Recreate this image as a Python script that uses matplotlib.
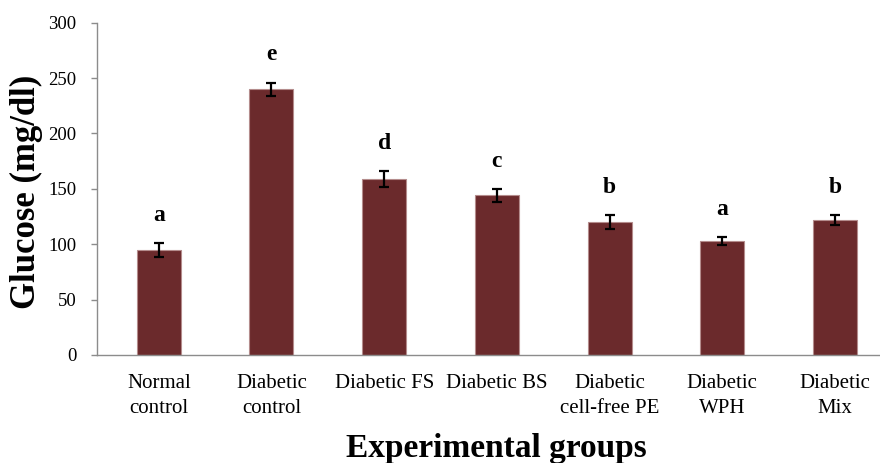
import matplotlib
matplotlib.use("Agg")
import matplotlib.pyplot as plt
import numpy as np

# Blood glucose per experimental group (mean ± SE) with significance letters
groups = ["Normal\ncontrol", "Diabetic\ncontrol", "Diabetic FS", "Diabetic BS",
          "Diabetic\ncell-free PE", "Diabetic\nWPH", "Diabetic\nMix"]
glucose = [95, 240, 159, 144, 120, 103, 122]
errors = [6.3, 6.0, 7.0, 5.5, 6.0, 3.3, 4.5]
letters = ["a", "e", "d", "c", "b", "a", "b"]
y_ticks = [0, 50, 100, 150, 200, 250, 300]

plt.rcParams["font.family"] = ["Liberation Serif", "DejaVu Serif"]

fig = plt.figure(figsize=(8.8, 4.63), dpi=100)
ax = fig.add_axes([0.110, 0.2333, 0.89, 0.7177])

x = np.arange(len(groups))
ax.bar(x, glucose, width=0.39, color="#6b2a2c", edgecolor="#b48c8c",
       linewidth=0.8, zorder=2)
ax.errorbar(x, glucose, yerr=errors, fmt="none", ecolor="black",
            elinewidth=1.6, capsize=3.6, capthick=1.6, zorder=3)

for xi, v, e, lab in zip(x, glucose, errors, letters):
    ax.annotate(lab, xy=(xi, v + e), xytext=(0, 16), textcoords="offset points",
                ha="center", va="baseline", fontsize=17, fontweight="bold")

ax.set_xlim(-0.55, 6.4)
ax.set_ylim(0, 300)
ax.set_yticks(y_ticks)
ax.set_xticks(x)
ax.set_xticklabels(groups, fontsize=15, linespacing=1.4)
ax.tick_params(axis="x", length=0, pad=14)
ax.tick_params(axis="y", labelsize=13.5, length=4.5, width=1, color="#8c8c8c",
               direction="out", pad=10)

for side in ("top", "right"):
    ax.spines[side].set_visible(False)
for side in ("left", "bottom"):
    ax.spines[side].set_color("#8c8c8c")
    ax.spines[side].set_linewidth(1.0)

ax.set_ylabel("Glucose (mg/dl)", fontsize=25, fontweight="bold", va="center")
ax.yaxis.set_label_coords(-0.09, 0.49)

fig.text(0.564, 0.013, "Experimental groups", ha="center", va="baseline",
         fontsize=24, fontweight="bold")

fig.savefig("out.png", dpi=100)
